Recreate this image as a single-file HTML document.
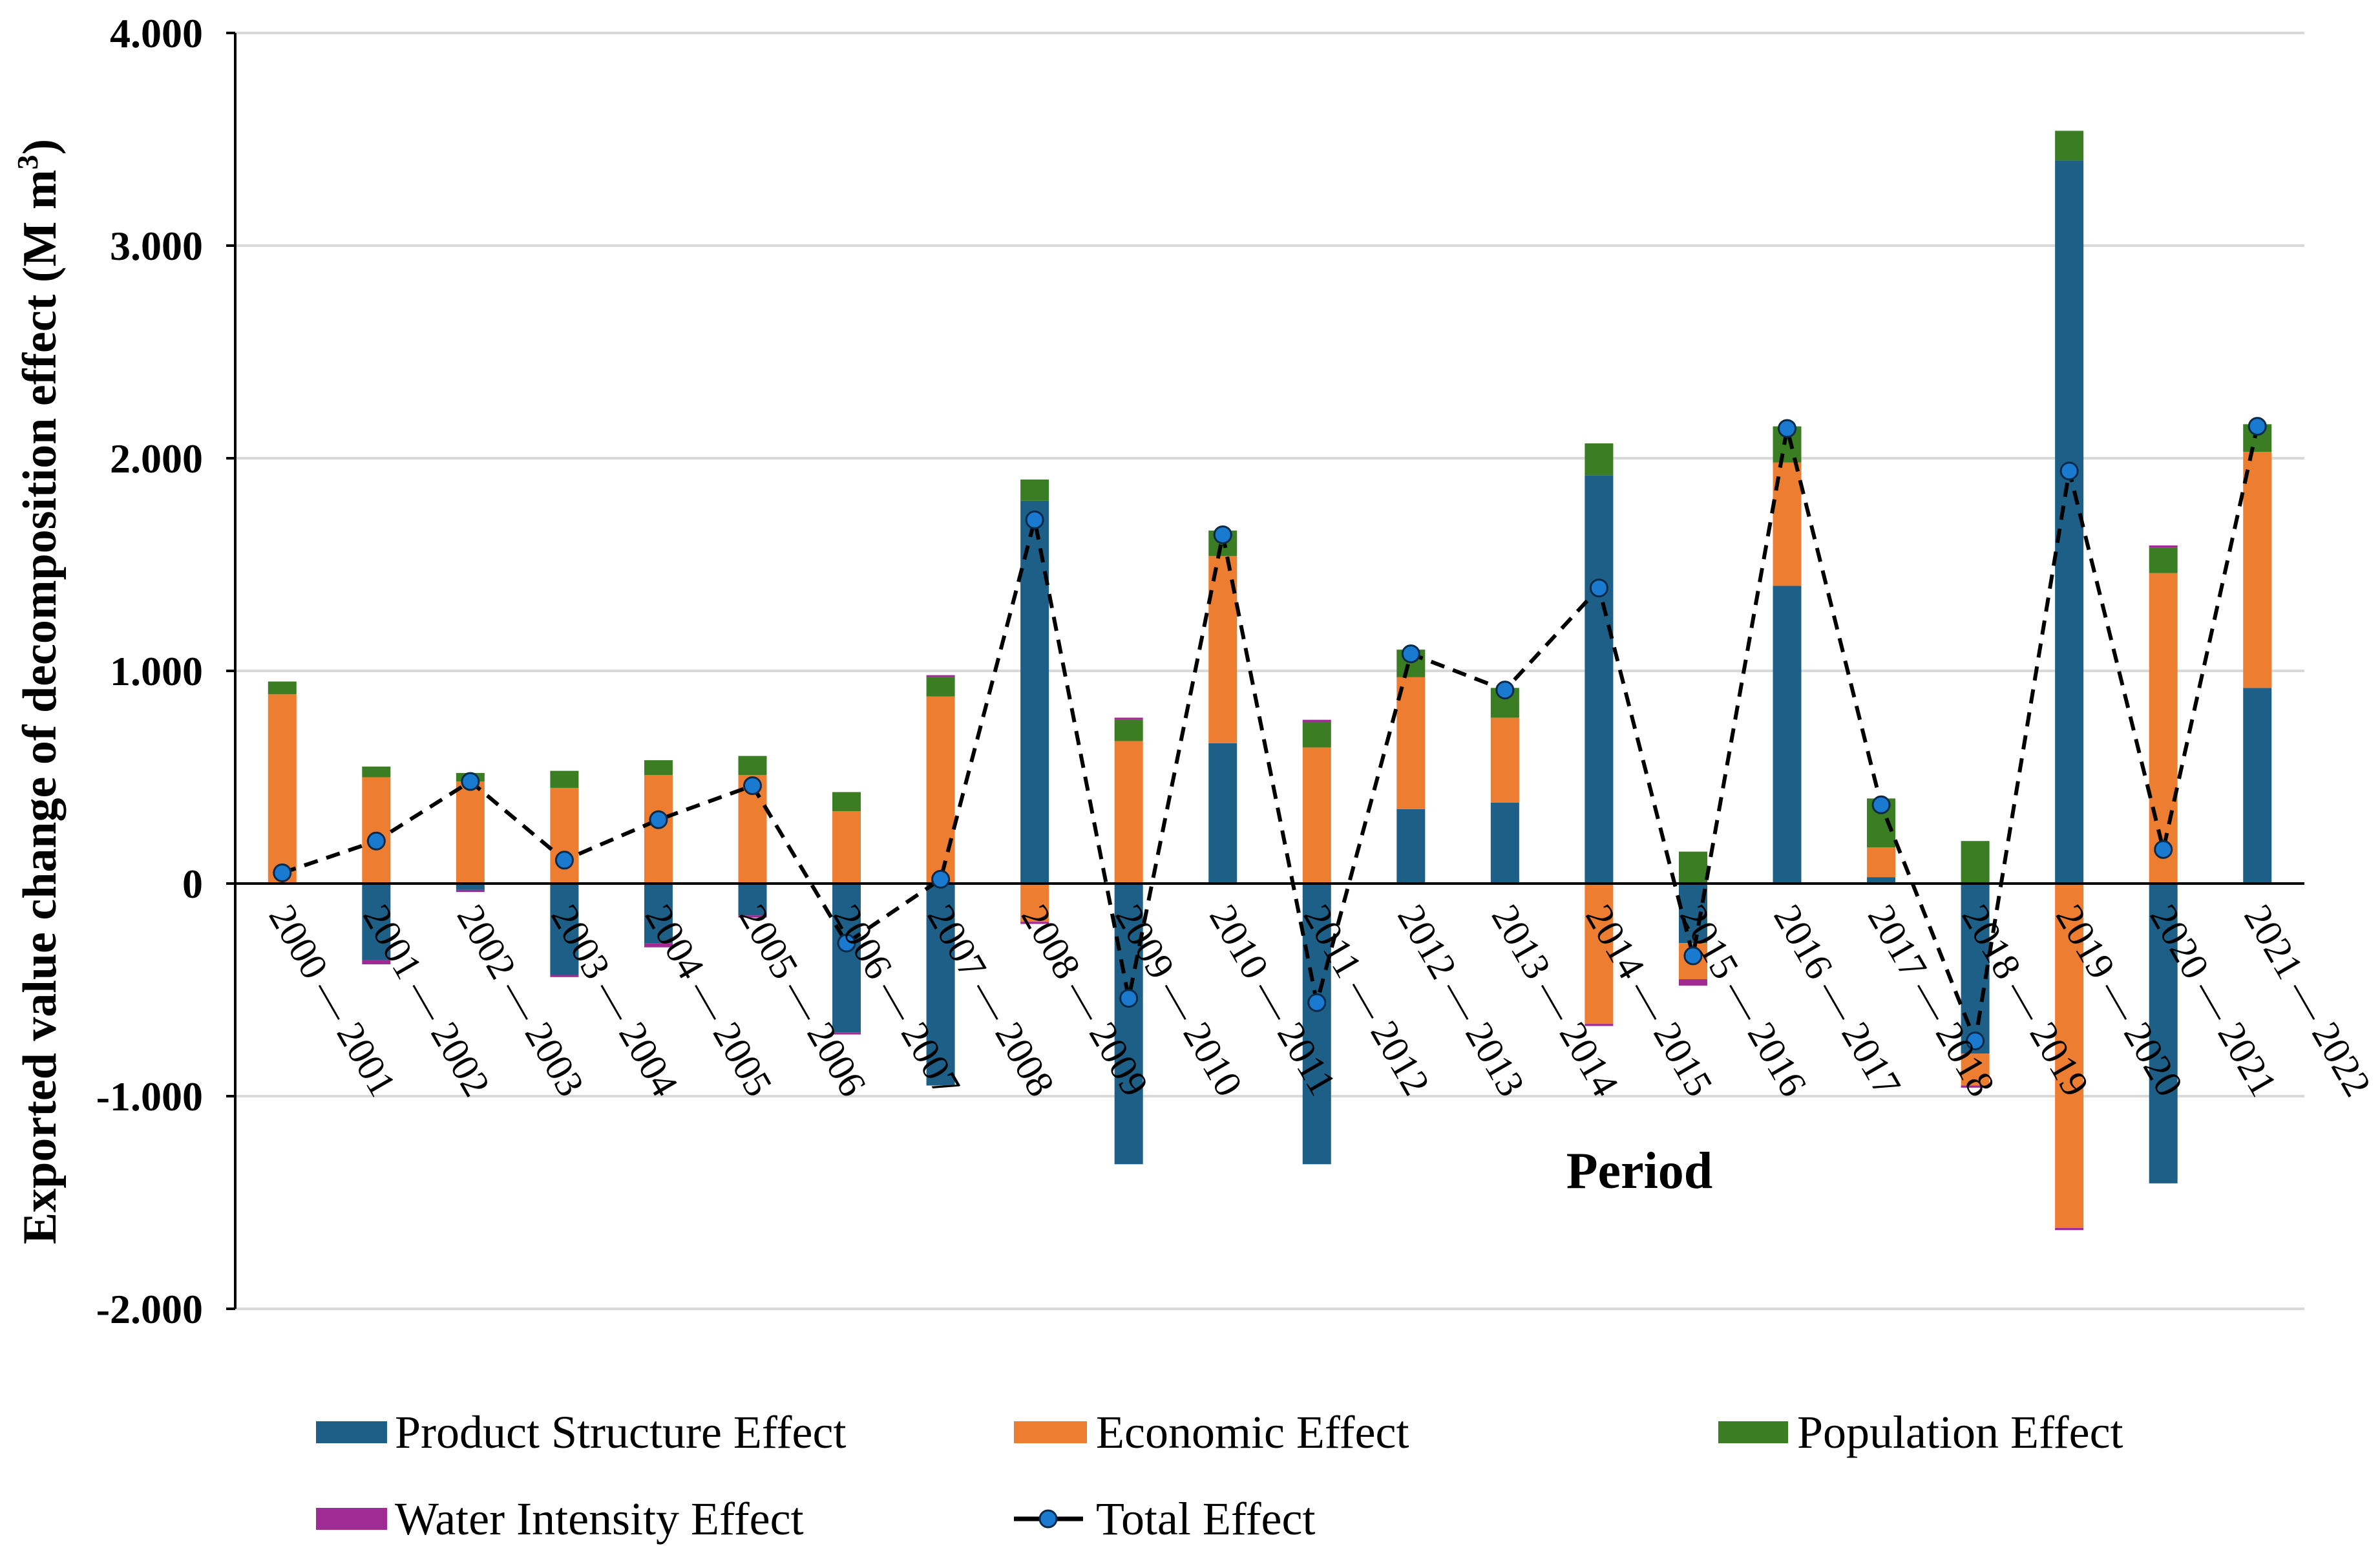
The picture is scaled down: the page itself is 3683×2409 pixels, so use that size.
<!DOCTYPE html>
<html><head><meta charset="utf-8"><style>
html,body{margin:0;padding:0;background:#fff;}
svg{display:block;}
</style></head><body>
<svg id="chart" xmlns="http://www.w3.org/2000/svg" width="3683" height="2409" viewBox="0 0 3683 2409" font-family="'Liberation Serif', serif">
<g id="grid"></g>
<g id="bars"></g>
<g id="axes"></g>
<g id="line"></g>
<g id="xlabels"></g>
<text transform="translate(86,1070) rotate(-90)" text-anchor="middle" font-size="74" font-weight="bold">Exported value change of decomposition effect (M m<tspan dy="-28" font-size="46">3</tspan><tspan dy="28">)</tspan></text>
<text x="2537" y="1838" text-anchor="middle" font-size="80" font-weight="bold">Period</text>
<g font-size="72">
  <g><rect x="489" y="2199" width="110" height="34" fill="#1d5f86"/><text x="611" y="2240">Product Structure Effect</text></g>
  <g><rect x="1569" y="2199" width="113" height="34" fill="#ed7d31"/><text x="1696" y="2240">Economic Effect</text></g>
  <g><rect x="2659" y="2199" width="108" height="34" fill="#3a7d22"/><text x="2781" y="2240">Population Effect</text></g>
  <g><rect x="489" y="2333" width="110" height="34" fill="#a02b93"/><text x="611" y="2374">Water Intensity Effect</text></g>
  <g><line x1="1569" y1="2350" x2="1676" y2="2350" stroke="#000" stroke-width="7"/><circle cx="1622" cy="2350" r="13" fill="#1a7ad0" stroke="#0a2a4a" stroke-width="3"/><text x="1696" y="2374">Total Effect</text></g>
</g>
</svg>
<script>
const categories=["2000 — 2001","2001 — 2002","2002 — 2003","2003 — 2004","2004 — 2005","2005 — 2006","2006 — 2007","2007 — 2008","2008 — 2009","2009 — 2010","2010 — 2011","2011 — 2012","2012 — 2013","2013 — 2014","2014 — 2015","2015 — 2016","2016 — 2017","2017 — 2018","2018 — 2019","2019 — 2020","2020 — 2021","2021 — 2022"];
const productStructure=[0,-0.36,-0.03,-0.43,-0.28,-0.15,-0.7,-0.95,1.8,-1.32,0.66,-1.32,0.35,0.38,1.92,-0.28,1.4,0.03,-0.8,3.4,-1.41,0.92];
const economic=[0.89,0.5,0.48,0.45,0.51,0.51,0.34,0.88,-0.18,0.67,0.88,0.64,0.62,0.4,-0.66,-0.17,0.58,0.14,-0.15,-1.62,1.46,1.11];
const population=[0.06,0.05,0.04,0.08,0.07,0.09,0.09,0.09,0.1,0.1,0.12,0.12,0.13,0.14,0.15,0.15,0.17,0.23,0.2,0.14,0.12,0.13];
const waterIntensity=[0,-0.02,-0.01,-0.01,-0.02,-0.01,-0.01,0.01,-0.01,0.01,0,0.01,0,0,-0.01,-0.03,0,0,-0.01,-0.01,0.01,0];
const totalEffect=[0.05,0.2,0.48,0.11,0.3,0.46,-0.28,0.02,1.71,-0.54,1.64,-0.56,1.08,0.91,1.39,-0.34,2.14,0.37,-0.74,1.94,0.16,2.15];
const yTicks=[4,3,2,1,0,-1,-2];
const yTickLabels=["4.000","3.000","2.000","1.000","0","-1.000","-2.000"];

const NS="http://www.w3.org/2000/svg";
const X0=364,X1=3566,Y0=1367,PX=329;
const band=(X1-X0)/categories.length;
function y(v){return Y0-v*PX;}
function xc(i){return X0+band*(i+0.5);}
function mk(tag,attrs,parent){const e=document.createElementNS(NS,tag);for(const k in attrs)e.setAttribute(k,attrs[k]);parent.appendChild(e);return e;}
const grid=document.getElementById('grid'),bars=document.getElementById('bars'),axes=document.getElementById('axes'),lineG=document.getElementById('line'),xl=document.getElementById('xlabels');
yTicks.forEach((t,i)=>{
  if(t!==0){const g=mk('line',{x1:X0,x2:X1,y1:y(t),y2:y(t),stroke:'#d9d9d9','stroke-width':4},grid);
  
  }
  const tk=mk('line',{x1:X0-14,x2:X0,y1:y(t),y2:y(t),stroke:'#000','stroke-width':4},axes);
  
  
  const tx=mk('text',{x:X0-50,y:y(t)+22,'text-anchor':'end','font-size':64,'font-weight':'bold'},axes);
  tx.textContent=yTickLabels[i];
  
  
});
const series=[[productStructure,'#1d5f86','product-structure'],[economic,'#ed7d31','economic'],[population,'#3a7d22','population'],[waterIntensity,'#a02b93','water-intensity']];
const BW=44;
categories.forEach((c,i)=>{
  let pos=0,neg=0;
  series.forEach(([arr,col,nm])=>{
    const v=arr[i];let a,b;
    if(v>=0){a=pos;b=pos+v;pos=b;}else{a=neg;b=neg+v;neg=b;}
    const top=Math.min(y(a),y(b)),h=Math.abs(y(a)-y(b));
    const r=mk('rect',{x:xc(i)-BW/2,y:top,width:BW,height:Math.max(h,0),fill:col},bars);
    
    
  });
  const t=mk('text',{transform:`translate(${xc(i)-22},${Y0+48}) rotate(60)`,'font-size':60},xl);
  t.textContent=c;
  
  
});
const ax=mk('line',{x1:X0,x2:X0,y1:y(4),y2:y(-2),stroke:'#000','stroke-width':4},axes);


const zx=mk('line',{x1:X0-14,x2:X1,y1:Y0,y2:Y0,stroke:'#000','stroke-width':4},axes);


const pts=totalEffect.map((v,i)=>xc(i)+','+y(v)).join(' ');
const pl=mk('polyline',{points:pts,fill:'none',stroke:'#000','stroke-width':6,'stroke-dasharray':'22 14'},lineG);


totalEffect.forEach((v,i)=>{
  const m=mk('circle',{cx:xc(i),cy:y(v),r:13,fill:'#1a7ad0',stroke:'#0a2a4a','stroke-width':3},lineG);
  
  
});
</script>
</body></html>
